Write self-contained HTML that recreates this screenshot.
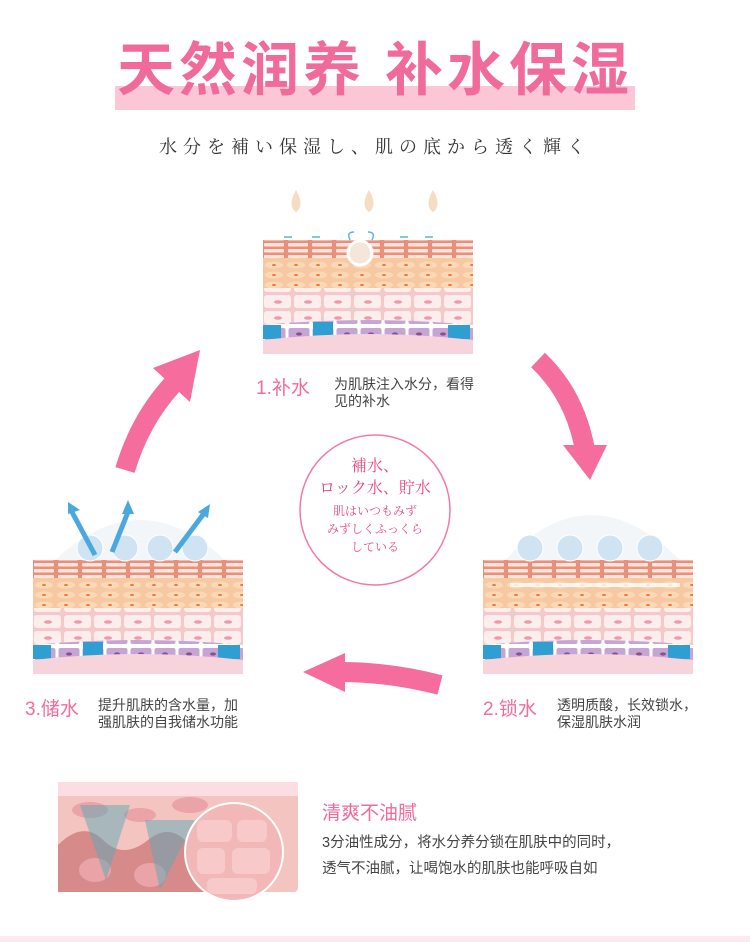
<!DOCTYPE html>
<html><head><meta charset="utf-8"><style>
body{margin:0;width:750px;height:942px;background:#fff;position:relative;overflow:hidden;font-family:"Liberation Sans","Noto Sans CJK SC",sans-serif}
.a{position:absolute}
.t{color:#f26c9c;font-size:19px;white-space:nowrap}
.d{color:#444;font-size:14px;line-height:17px}
</style></head><body>
<svg width="0" height="0" style="position:absolute">
<defs>
<pattern id="brick" width="24" height="6" patternUnits="userSpaceOnUse"><rect width="24" height="6" fill="#e9907a"/><rect x="1" y="1" width="20" height="3.5" rx="1" fill="#fbe4dc"/></pattern>
<pattern id="cells" width="30" height="16" patternUnits="userSpaceOnUse"><rect width="30" height="16" fill="#f5c9c9"/><rect x="1" y="1" width="27" height="13" rx="3" fill="#fdeeee"/><ellipse cx="15" cy="8" rx="4" ry="1.8" fill="#ef9aa8"/></pattern>
<pattern id="fat" width="22" height="10" patternUnits="userSpaceOnUse"><rect width="22" height="10" fill="#f7c9a2"/><ellipse cx="11" cy="5" rx="9" ry="3.5" fill="#fbd9b6"/><ellipse cx="11" cy="5" rx="2" ry="1" fill="#ec7a3a"/></pattern>
<pattern id="purp" width="24" height="16" patternUnits="userSpaceOnUse"><rect width="24" height="16" fill="#fff"/><rect x="1.5" y="2" width="21" height="12" rx="2" fill="#c6a5d4"/><ellipse cx="12" cy="8" rx="3" ry="1.6" fill="#8a4f8e"/></pattern>
<g id="skin">
<rect x="0" y="10" width="210" height="18" fill="url(#brick)"/>
<rect x="0" y="28" width="210" height="30" fill="url(#fat)"/>
<rect x="0" y="58" width="210" height="40" fill="url(#cells)"/>
<path d="M0 95 Q105 85 210 95 V118 H0Z" fill="url(#purp)"/>
<rect x="0" y="95" width="18" height="14" fill="#2e9fd0"/><rect x="50" y="92" width="20" height="14" fill="#2e9fd0"/><rect x="185" y="95" width="22" height="14" fill="#2e9fd0"/>
<path d="M0 110 Q105 98 210 110 V124 H0Z" fill="#f7d3dc"/>
</g>
</defs></svg>

<div class="a" style="left:115px;top:86px;width:520px;height:24px;background:#fbc6d6"></div>
<div class="a" style="left:0;top:38px;width:750px;text-align:center;font-size:58px;font-weight:bold;color:#f06a9a;letter-spacing:4px;line-height:66px">天然润养 补水保湿</div>
<div class="a" style="left:0;top:133px;width:750px;text-align:center;font-size:18px;color:#333;letter-spacing:6px;font-family:'Liberation Serif','Noto Serif CJK SC',serif">水分を補い保湿し、肌の底から透く輝く</div>

<svg class="a" style="left:0;top:0" width="750" height="942">
<g transform="translate(263,230)"><use href="#skin"/></g>
<g fill="#f6dcc0"><path d="M296 190 q-9 16 0 22 q9-6 0-22z"/><path d="M369 190 q-9 16 0 22 q9-6 0-22z"/><path d="M433 190 q-9 16 0 22 q9-6 0-22z"/></g>
<circle cx="360" cy="253" r="12" fill="#f4e6d8" stroke="#fff" stroke-width="3"/>
<g stroke="#5cb4e0" stroke-width="1.5" fill="none"><path d="M292 237h-8M320 237h-8M400 237h8M425 237h8M350 240q-4-8 4-8M372 240q4-8-4-8"/></g>
<path d="M55 560 Q140 480 225 560" fill="#eef2f6" opacity=".7"/>
<g transform="translate(33,550)"><use href="#skin"/></g>
<g fill="#cfe3f2" stroke="#fff"><circle cx="90" cy="548" r="13"/><circle cx="125" cy="548" r="13"/><circle cx="160" cy="548" r="13"/><circle cx="195" cy="548" r="13"/></g>
<g stroke="#4aa8dc" stroke-width="5" fill="none"><path d="M95 555 L72 512M112 552 L128 512M175 552 L205 512"/></g>
<g fill="#4aa8dc"><path d="M68 502l12 8-12 4z"/><path d="M128 500l6 14-12 0z"/><path d="M210 504l-2 14-10-6z"/></g>
<path d="M505 560 Q590 470 680 560" fill="#eef2f6" opacity=".7"/>
<g transform="translate(483,550)"><use href="#skin"/></g>
<g fill="#cfe3f2" stroke="#fff"><circle cx="530" cy="548" r="13"/><circle cx="570" cy="548" r="13"/><circle cx="610" cy="548" r="13"/><circle cx="650" cy="548" r="13"/></g>
<path d="M510 585 h170" stroke="#fff" stroke-width="4" opacity=".8"/>
<g fill="none" stroke="#f56d9c" stroke-width="20">
<path d="M125 470 Q140 420 172 385"/>
<path d="M538 360 Q575 395 585 450"/>
<path d="M440 685 Q390 672 340 672"/>
</g>
<g fill="#f56d9c">
<path d="M153 368 L200 350 L190 402Z"/>
<path d="M563 445 L607 445 L590 480Z"/>
<path d="M345 653 L345 692 L303 672Z"/>
</g>
<circle cx="375" cy="510" r="75" fill="#fff" stroke="#f37aa3" stroke-width="1.5"/>
<rect x="58" y="782" width="240" height="110" rx="4" fill="#f4c4c0"/>
<rect x="58" y="782" width="240" height="14" fill="#fbdde2"/>
<path d="M58 845 q25-25 45-5 t45 0 t45 10 t40 -10 V892 H58Z" fill="#d68a8a"/>
<g fill="#eaa3a6"><ellipse cx="90" cy="810" rx="18" ry="8"/><ellipse cx="140" cy="815" rx="16" ry="7"/><ellipse cx="190" cy="805" rx="18" ry="8"/><ellipse cx="95" cy="870" rx="16" ry="12"/><ellipse cx="150" cy="875" rx="16" ry="12"/></g>
<path d="M80 805 L130 805 L106 880Z" fill="#5aa9b8" opacity=".5"/>
<path d="M145 820 L195 820 L160 890Z" fill="#5aa9b8" opacity=".5"/>
<circle cx="234" cy="852" r="49" fill="#f2b8b8" stroke="#fff" stroke-width="2"/>
<g fill="#f7c9c8"><rect x="197" y="820" width="35" height="22" rx="6"/><rect x="237" y="820" width="30" height="22" rx="6"/><rect x="197" y="848" width="28" height="26" rx="6"/><rect x="232" y="848" width="38" height="26" rx="6"/><rect x="207" y="878" width="50" height="16" rx="6"/></g>
</svg>

<div class="a" style="left:300px;top:456px;width:150px;text-align:center;color:#e7477e;font-size:16px;line-height:22px;font-family:'Liberation Serif','Noto Serif CJK SC',serif">補水、<br>ロック水、貯水</div>
<div class="a" style="left:300px;top:502px;width:150px;text-align:center;color:#e7477e;font-size:12px;line-height:18px;font-family:'Liberation Serif','Noto Serif CJK SC',serif">肌はいつもみず<br>みずしくふっくら<br>している</div>

<div class="a t" style="left:256px;top:373px">1.补水</div>
<div class="a d" style="left:334px;top:376px">为肌肤注入水分，看得<br>见的补水</div>
<div class="a t" style="left:25px;top:694px">3.储水</div>
<div class="a d" style="left:98px;top:697px">提升肌肤的含水量，加<br>强肌肤的自我储水功能</div>
<div class="a t" style="left:483px;top:694px">2.锁水</div>
<div class="a d" style="left:557px;top:697px">透明质酸，长效锁水，<br>保湿肌肤水润</div>

<div class="a" style="left:322px;top:798px;color:#f06a9a;font-size:19px">清爽不油腻</div>
<div class="a d" style="left:322px;top:830px;font-size:14.5px;line-height:26px">3分油性成分，将水分养分锁在肌肤中的同时，<br>透气不油腻，让喝饱水的肌肤也能呼吸自如</div>
<div class="a" style="left:0;top:936px;width:750px;height:6px;background:#fde9ef"></div>
</body></html>
